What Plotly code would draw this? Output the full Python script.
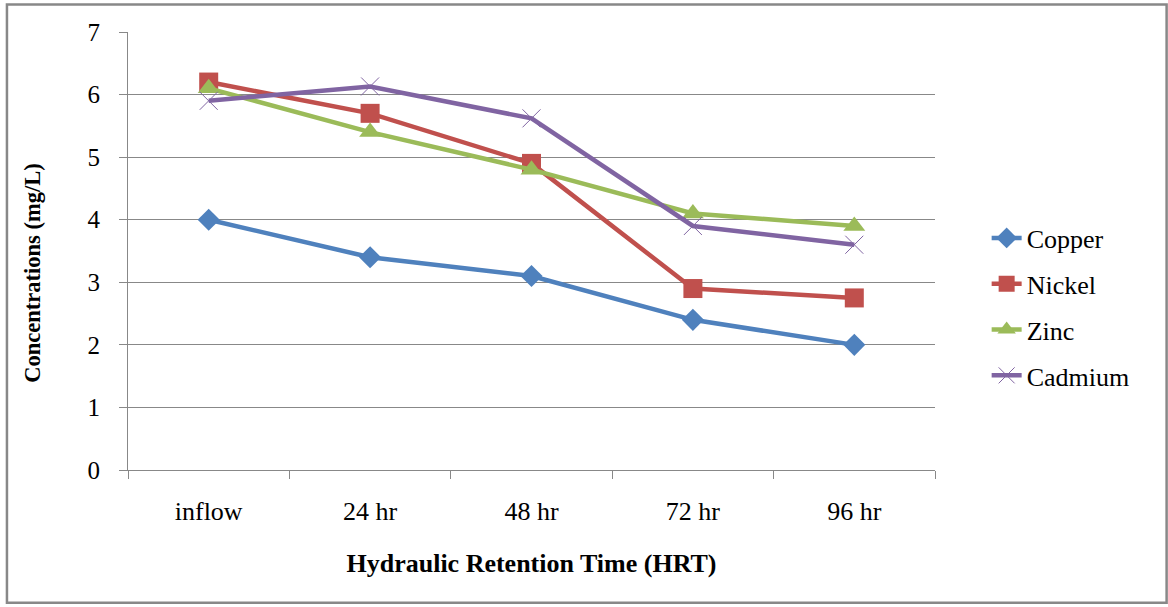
import plotly.graph_objects as go

categories = ["inflow", "24 hr", "48 hr", "72 hr", "96 hr"]
copper = [4.0, 3.4, 3.1, 2.4, 2.0]
nickel = [6.2, 5.7, 4.9, 2.9, 2.75]
zinc = [6.1, 5.4, 4.8, 4.1, 3.9]
cadmium = [5.9, 6.13, 5.62, 3.9, 3.6]

series = [
    ("Copper", copper, "#4F81BD", "diamond", 17, None),
    ("Nickel", nickel, "#C0504D", "square", 19, None),
    ("Zinc", zinc, "#9BBB59", "triangle-up", 19, None),
    ("Cadmium", cadmium, "#8064A2", "x-thin", 18, 1),
]

FONT = "Liberation Serif, Times New Roman, serif"

fig = go.Figure()
for name, vals, color, sym, size, lw in series:
    marker = dict(symbol=sym, size=size, color=color)
    if lw:
        marker["line"] = dict(color=color, width=lw)
    else:
        marker["line"] = dict(width=0)
    fig.add_trace(go.Scatter(
        x=categories, y=vals, name=name, mode="lines+markers",
        line=dict(color=color, width=4.5), marker=marker, legendgroup=name,
    ))

fig.update_layout(
    width=1168, height=607,
    margin=dict(l=128, r=233, t=32, b=137),
    paper_bgcolor="white", plot_bgcolor="white",
    font=dict(family=FONT, size=25, color="black"),
    showlegend=True,
    legend=dict(x=1.064, y=0.372, xanchor="left", yanchor="middle",
                tracegroupgap=9, font=dict(family=FONT, size=26),
                bgcolor="rgba(0,0,0,0)"),
    xaxis=dict(
        title=dict(text="<b>Hydraulic Retention Time (HRT)</b>", standoff=28,
                   font=dict(family=FONT, size=26)),
        range=[-0.5, 4.5],
        showline=True, linecolor="#888888", linewidth=1,
        ticks="outside", tickson="boundaries", ticklen=8, tickcolor="#888888",
        showgrid=False, tickfont=dict(family=FONT, size=26),
        ticklabelstandoff=18,
    ),
    yaxis=dict(
        range=[0, 7], dtick=1, showline=True, linecolor="#888888", linewidth=1,
        ticks="outside", ticklen=8, tickcolor="#888888",
        showgrid=True, gridcolor="#888888", gridwidth=1,
        zeroline=False, tickfont=dict(family=FONT, size=25),
        ticklabelstandoff=14,
    ),
    annotations=[dict(text="<b>Concentrations (mg/L)</b>", textangle=-90,
                      xref="paper", yref="paper", x=-0.118, y=0.45,
                      xanchor="center", yanchor="middle", showarrow=False,
                      font=dict(family=FONT, size=22.5))],
    shapes=[dict(type="rect", xref="paper", yref="paper",
                 x0=-0.150, x1=1.287, y0=-0.303, y1=1.063,
                 line=dict(color="#888888", width=2.5))],
)

fig.write_html("out.html")
